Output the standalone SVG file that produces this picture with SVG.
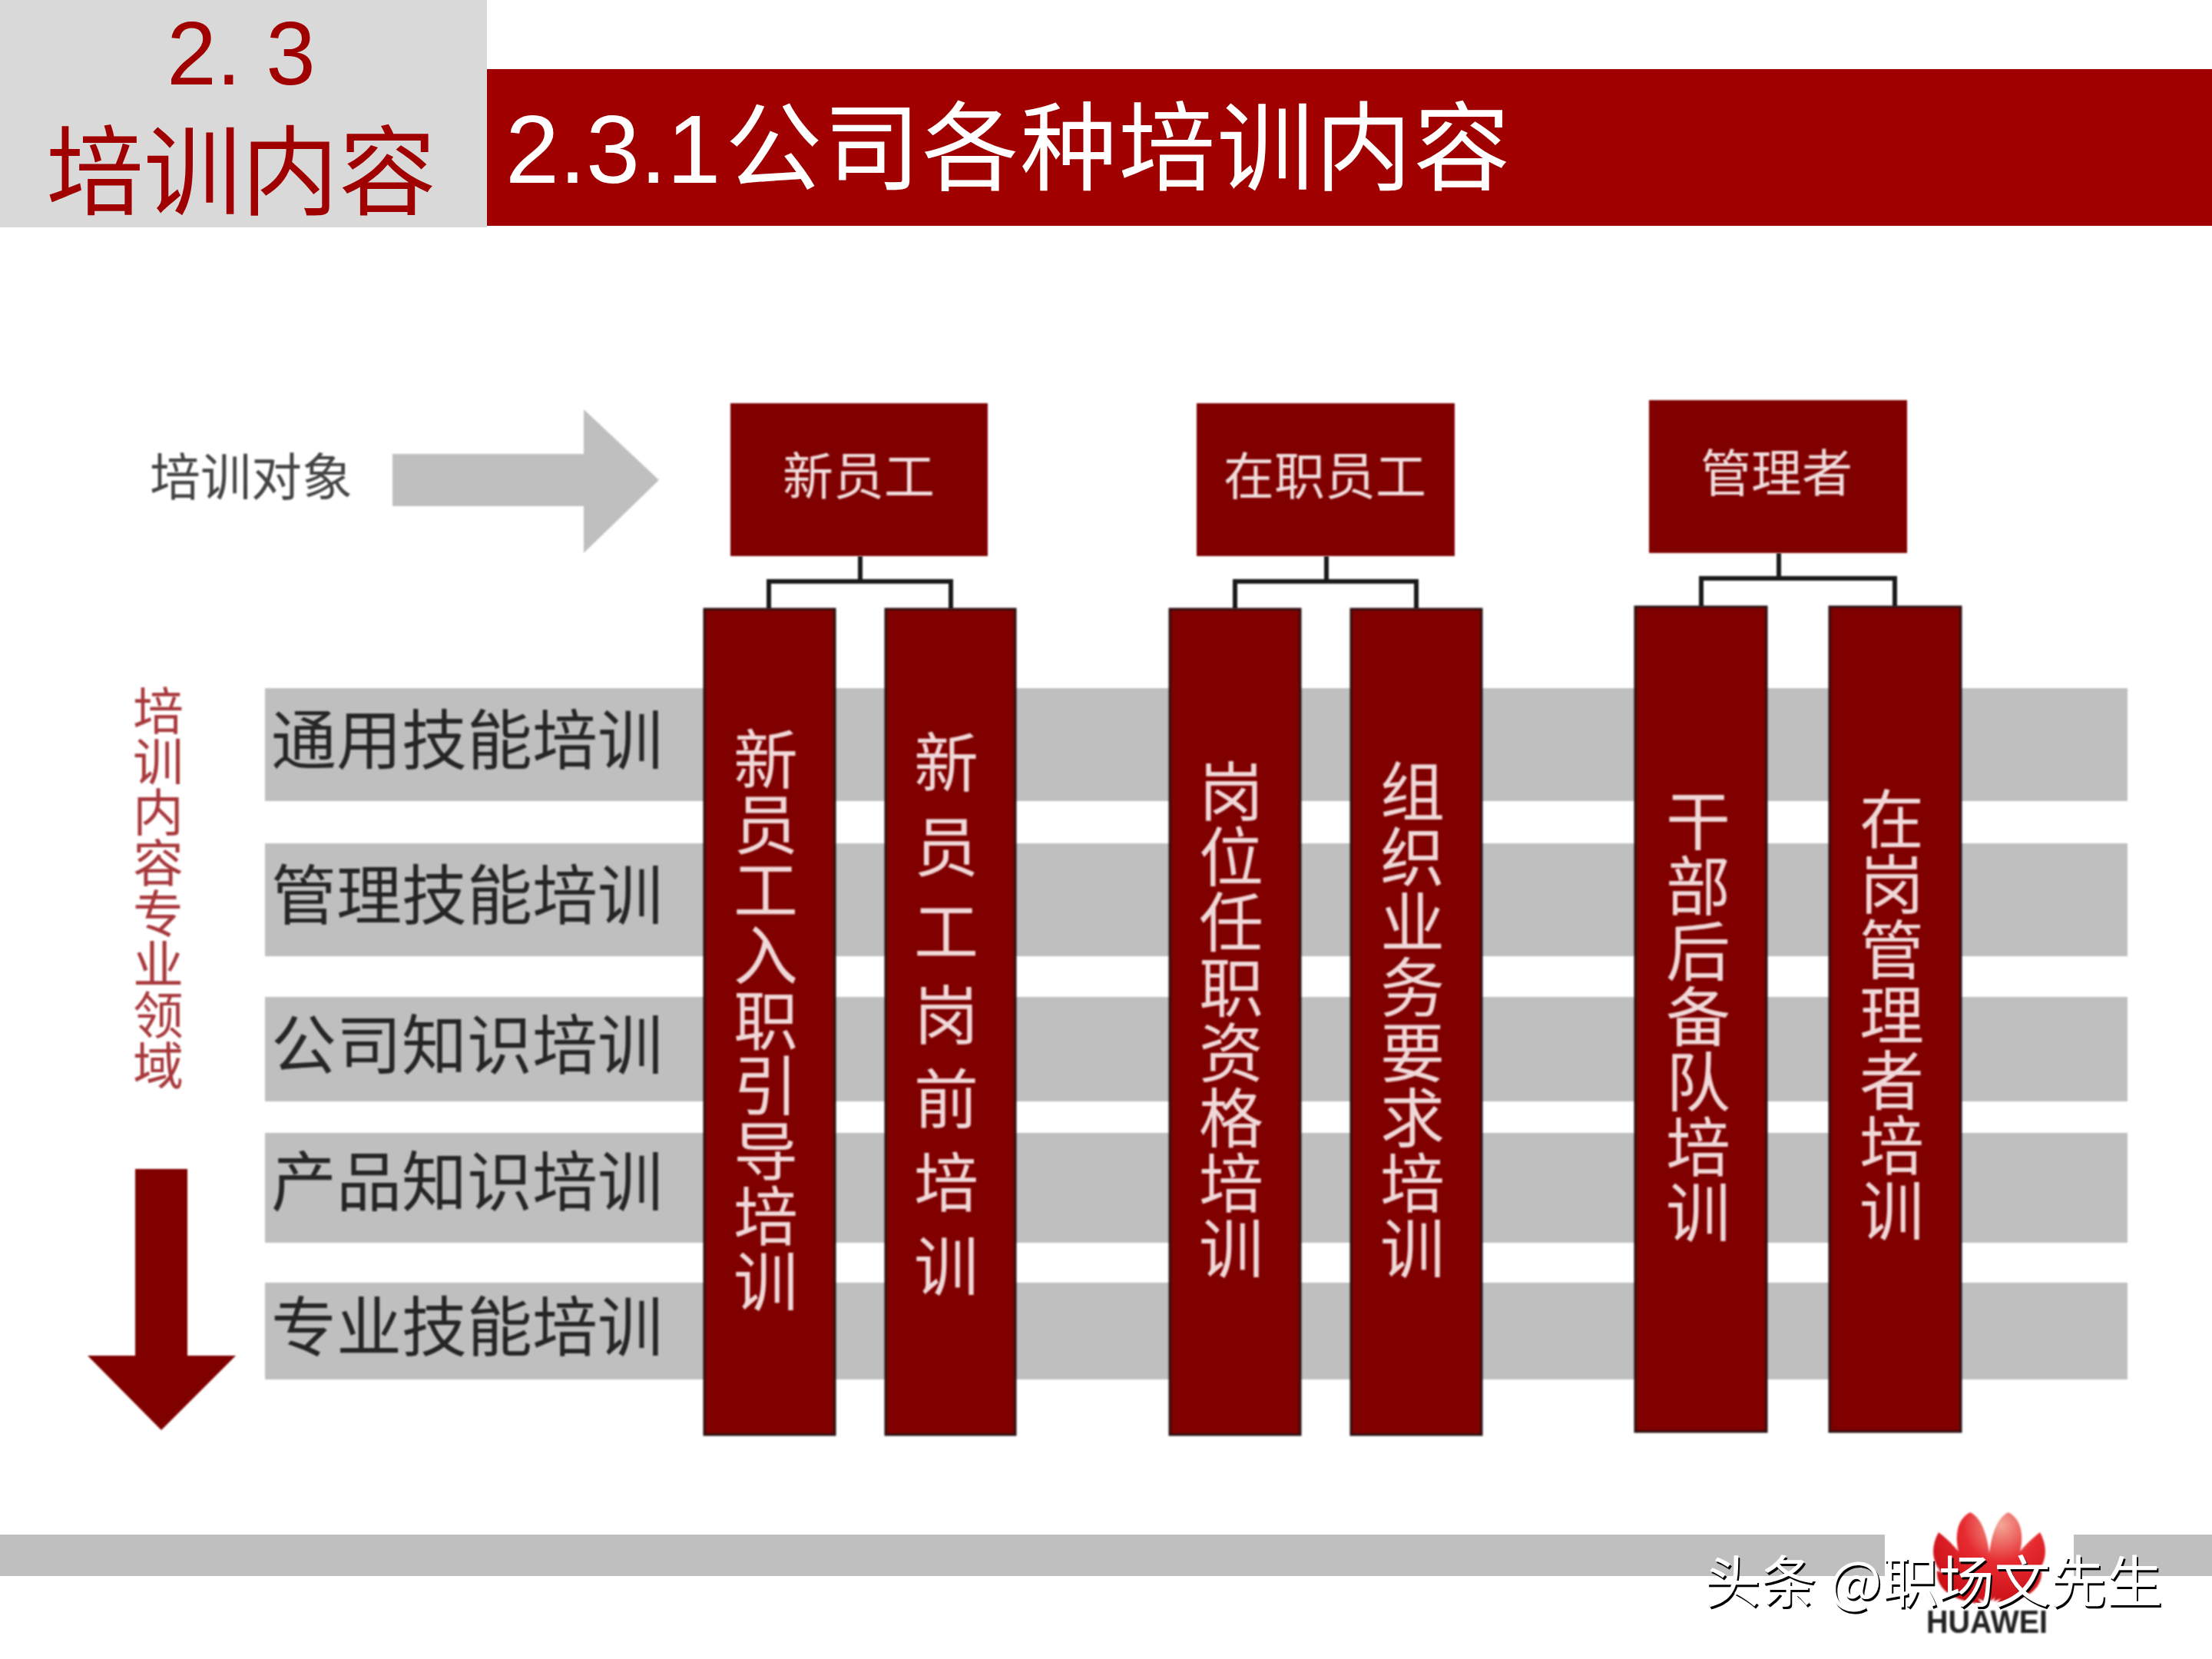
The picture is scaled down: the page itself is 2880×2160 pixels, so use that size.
<svg xmlns="http://www.w3.org/2000/svg" width="2880" height="2160" viewBox="0 0 2880 2160">
<defs>
<style>
text{font-family:"Liberation Sans","Noto Sans CJK SC",sans-serif}
.cjk{font-family:"Noto Sans CJK SC",sans-serif}
.dark{fill:#800000}
.band{fill:#bfbfbf}
.conn{fill:none;stroke:#1a1a1a;stroke-width:6}
.row{font-size:85px;fill:#262626;text-anchor:start}
.top{font-size:66px;fill:#f0dcdc;text-anchor:middle}
.col{font-size:84px;fill:#f0d8d8;text-anchor:middle}
.child{fill:#800000;stroke:#2a1010;stroke-width:3}
.soft{filter:blur(0.9px)}
</style>
<radialGradient id="petal" gradientUnits="userSpaceOnUse" cx="2605" cy="1985" r="110">
<stop offset="0" stop-color="#f4a898"/><stop offset="0.45" stop-color="#e62a30"/><stop offset="1" stop-color="#c80d14"/>
</radialGradient>
</defs>
<rect width="2880" height="2160" fill="#fff"/>
<g id="header">
<rect x="0" y="0" width="634" height="296" fill="#d9d9d9"/>
<rect x="634" y="90" width="2246" height="204" fill="#a00000"/>
<text x="314" y="110" font-size="116" fill="#a00000" text-anchor="middle">2. 3</text>
<text class="cjk" x="60" y="270" font-size="127" fill="#a00000">培训内容</text>
<text x="658" y="238" font-size="126" fill="#fff">2.3.1<tspan class="cjk" dx="6" letter-spacing="2">公司各种培训内容</tspan></text>
</g>
<g id="audience-label" class="soft">
<text class="cjk" x="195" y="645" font-size="66" fill="#444">培训对象</text>
<polygon points="511,591 760,591 760,533 858,625 760,720 760,659 511,659" fill="#bfbfbf"/>
</g>
<g id="bands" class="soft">
<rect class="band" x="345" y="896" width="2425" height="147"/>
<rect class="band" x="345" y="1098" width="2425" height="147"/>
<rect class="band" x="345" y="1298" width="2425" height="136"/>
<rect class="band" x="345" y="1475" width="2425" height="143"/>
<rect class="band" x="345" y="1670" width="2425" height="126"/>
<text class="row cjk" x="353" y="995">通用技能培训</text>
<text class="row cjk" x="353" y="1197">管理技能培训</text>
<text class="row cjk" x="353" y="1392">公司知识培训</text>
<text class="row cjk" x="353" y="1570">产品知识培训</text>
<text class="row cjk" x="353" y="1759">专业技能培训</text>
</g>
<g id="domain-label" class="soft">
<text class="cjk" x="206 206 206 206 206 206 206 206" y="950 1016 1082 1148 1214 1280 1346 1412" font-size="66" fill="#a8383c" text-anchor="middle">培训内容专业领域</text>
<polygon class="dark" points="176,1522 244,1522 244,1765 307,1765 210,1862 114,1765 176,1765"/>
</g>
<g id="connectors" class="soft">
<path class="conn" d="M1120 724V757M1001 793V757H1238V793"/>
<path class="conn" d="M1727 724V757M1608 793V757H1844V793"/>
<path class="conn" d="M2316 720V753M2215 790V753H2467V790"/>
</g>
<g id="node-new" class="soft"><rect class="dark" x="951" y="525" width="335" height="199"/><text class="top cjk" x="1118" y="644">新员工</text></g>
<g id="node-current" class="soft"><rect class="dark" x="1558" y="525" width="336" height="199"/><text class="top cjk" x="1725" y="644">在职员工</text></g>
<g id="node-manager" class="soft"><rect class="dark" x="2147" y="521" width="336" height="199"/><text class="top cjk" x="2313" y="640">管理者</text></g>
<g id="node-c1" class="soft"><rect class="child" x="917" y="793" width="170" height="1075"/><text class="col cjk" x="997 997 997 997 997 997 997 997 997" y="1020 1105 1190 1275 1360 1445 1530 1615 1700">新员工入职引导培训</text></g>
<g id="node-c2" class="soft"><rect class="child" x="1153" y="793" width="169" height="1075"/><text class="col cjk" x="1232 1232 1232 1232 1232 1232 1232" y="1024 1134 1244 1353 1462 1571 1680">新员工岗前培训</text></g>
<g id="node-c3" class="soft"><rect class="child" x="1523" y="793" width="170" height="1075"/><text class="col cjk" x="1603 1603 1603 1603 1603 1603 1603 1603" y="1062 1147 1232 1317 1402 1487 1572 1657">岗位任职资格培训</text></g>
<g id="node-c4" class="soft"><rect class="child" x="1759" y="793" width="170" height="1075"/><text class="col cjk" x="1839 1839 1839 1839 1839 1839 1839 1839" y="1062 1147 1232 1317 1402 1487 1572 1657">组织业务要求培训</text></g>
<g id="node-c5" class="soft"><rect class="child" x="2129" y="790" width="171" height="1074"/><text class="col cjk" x="2211 2211 2211 2211 2211 2211 2211" y="1100 1185 1270 1355 1440 1525 1610">干部后备队培训</text></g>
<g id="node-c6" class="soft"><rect class="child" x="2382" y="790" width="171" height="1074"/><text class="col cjk" x="2463 2463 2463 2463 2463 2463 2463" y="1098 1183 1268 1353 1438 1523 1608">在岗管理者培训</text></g>
<g id="footer">
<rect class="band" x="0" y="1998" width="2454" height="54"/>
<rect class="band" x="2700" y="1998" width="180" height="54"/>
<g id="logo" class="soft" fill="url(#petal)">
<path d="M2588 2085C2545 2040 2535 1985 2565 1969C2590 1980 2596 2040 2588 2085Z"/>
<path d="M2592 2085C2635 2040 2645 1985 2615 1969C2590 1980 2584 2040 2592 2085Z"/>
<path d="M2584 2085C2525 2060 2505 2030 2524 1995C2550 2015 2578 2050 2584 2085Z"/>
<path d="M2596 2085C2655 2060 2675 2030 2656 1995C2630 2015 2602 2050 2596 2085Z"/>
<path d="M2580 2088C2545 2085 2520 2070 2522 2045C2550 2058 2570 2072 2580 2088Z"/>
<path d="M2600 2088C2635 2085 2660 2070 2658 2045C2630 2058 2610 2072 2600 2088Z"/>
<text x="2508" y="2126" font-size="42" font-weight="700" fill="#222" textLength="158" lengthAdjust="spacingAndGlyphs">HUAWEI</text>
</g>
<text class="cjk" x="2219" y="2086" font-size="73" fill="#fff" style="filter:drop-shadow(2px 3px 0 #000)">头条 @职场文先生</text>
</g>
</svg>
